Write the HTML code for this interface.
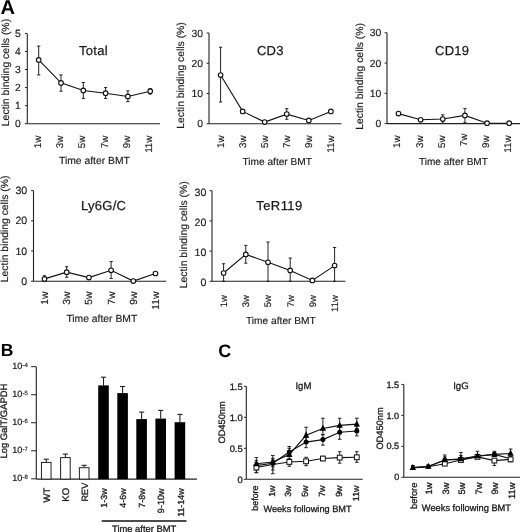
<!DOCTYPE html>
<html><head><meta charset="utf-8"><style>
html,body{margin:0;padding:0;background:#fff;}
body{width:520px;height:532px;overflow:hidden;}
svg{display:block;font-family:"Liberation Sans", sans-serif;filter:grayscale(1) blur(0.3px);text-rendering:geometricPrecision;}
text{paint-order:stroke;}
</style></head><body>
<svg width="520" height="532" viewBox="0 0 520 532">
<rect width="520" height="532" fill="#fff"/>
<text x="0.4" y="13.8" font-size="20" text-anchor="start" fill="#000" font-weight="bold">A</text>
<line x1="27.3" y1="33.4" x2="27.3" y2="123.7" stroke="#222" stroke-width="1.1"/>
<line x1="27.3" y1="123.7" x2="160" y2="123.7" stroke="#222" stroke-width="1.1"/>
<line x1="24.9" y1="123.7" x2="27.3" y2="123.7" stroke="#222" stroke-width="1"/>
<text x="20.8" y="127.28" font-size="10.4" text-anchor="end" fill="#1a1a1a" stroke="#1a1a1a" stroke-width="0.15">0</text>
<line x1="24.9" y1="105.64" x2="27.3" y2="105.64" stroke="#222" stroke-width="1"/>
<text x="20.8" y="109.22" font-size="10.4" text-anchor="end" fill="#1a1a1a" stroke="#1a1a1a" stroke-width="0.15">1</text>
<line x1="24.9" y1="87.58" x2="27.3" y2="87.58" stroke="#222" stroke-width="1"/>
<text x="20.8" y="91.16" font-size="10.4" text-anchor="end" fill="#1a1a1a" stroke="#1a1a1a" stroke-width="0.15">2</text>
<line x1="24.9" y1="69.52" x2="27.3" y2="69.52" stroke="#222" stroke-width="1"/>
<text x="20.8" y="73.1" font-size="10.4" text-anchor="end" fill="#1a1a1a" stroke="#1a1a1a" stroke-width="0.15">3</text>
<line x1="24.9" y1="51.46" x2="27.3" y2="51.46" stroke="#222" stroke-width="1"/>
<text x="20.8" y="55.04" font-size="10.4" text-anchor="end" fill="#1a1a1a" stroke="#1a1a1a" stroke-width="0.15">4</text>
<line x1="24.9" y1="33.4" x2="27.3" y2="33.4" stroke="#222" stroke-width="1"/>
<text x="20.8" y="36.98" font-size="10.4" text-anchor="end" fill="#1a1a1a" stroke="#1a1a1a" stroke-width="0.15">5</text>
<text transform="translate(9.3,126.2) rotate(-90)" font-size="10.45" text-anchor="start" fill="#1a1a1a" stroke="#1a1a1a" stroke-width="0.15">Lectin binding cells (%)</text>
<text x="79" y="54.6" font-size="13" text-anchor="start" fill="#1a1a1a" stroke="#1a1a1a" stroke-width="0.25" letter-spacing="0.3">Total</text>
<text transform="translate(40.87,135.6) rotate(-90)" font-size="9.8" text-anchor="end" fill="#1a1a1a" stroke="#1a1a1a" stroke-width="0.15">1w</text>
<text transform="translate(63.17,135.6) rotate(-90)" font-size="9.8" text-anchor="end" fill="#1a1a1a" stroke="#1a1a1a" stroke-width="0.15">3w</text>
<text transform="translate(85.47,135.6) rotate(-90)" font-size="9.8" text-anchor="end" fill="#1a1a1a" stroke="#1a1a1a" stroke-width="0.15">5w</text>
<text transform="translate(107.77,135.6) rotate(-90)" font-size="9.8" text-anchor="end" fill="#1a1a1a" stroke="#1a1a1a" stroke-width="0.15">7w</text>
<text transform="translate(130.07,135.6) rotate(-90)" font-size="9.8" text-anchor="end" fill="#1a1a1a" stroke="#1a1a1a" stroke-width="0.15">9w</text>
<text transform="translate(152.37,135.6) rotate(-90)" font-size="9.8" text-anchor="end" fill="#1a1a1a" stroke="#1a1a1a" stroke-width="0.15">11w</text>
<text x="59" y="164.4" font-size="10.35" text-anchor="start" fill="#1a1a1a" stroke="#1a1a1a" stroke-width="0.15">Time after BMT</text>
<line x1="38.7" y1="74.94" x2="38.7" y2="46.04" stroke="#222" stroke-width="1"/>
<line x1="37.1" y1="46.04" x2="40.3" y2="46.04" stroke="#222" stroke-width="1"/>
<line x1="37.1" y1="74.94" x2="40.3" y2="74.94" stroke="#222" stroke-width="1"/>
<line x1="61" y1="91.19" x2="61" y2="74.94" stroke="#222" stroke-width="1"/>
<line x1="59.4" y1="74.94" x2="62.6" y2="74.94" stroke="#222" stroke-width="1"/>
<line x1="59.4" y1="91.19" x2="62.6" y2="91.19" stroke="#222" stroke-width="1"/>
<line x1="83.3" y1="98.42" x2="83.3" y2="82.52" stroke="#222" stroke-width="1"/>
<line x1="81.7" y1="82.52" x2="84.9" y2="82.52" stroke="#222" stroke-width="1"/>
<line x1="81.7" y1="98.42" x2="84.9" y2="98.42" stroke="#222" stroke-width="1"/>
<line x1="105.6" y1="98.42" x2="105.6" y2="87.58" stroke="#222" stroke-width="1"/>
<line x1="104" y1="87.58" x2="107.2" y2="87.58" stroke="#222" stroke-width="1"/>
<line x1="104" y1="98.42" x2="107.2" y2="98.42" stroke="#222" stroke-width="1"/>
<line x1="127.9" y1="101.67" x2="127.9" y2="90.83" stroke="#222" stroke-width="1"/>
<line x1="126.3" y1="90.83" x2="129.5" y2="90.83" stroke="#222" stroke-width="1"/>
<line x1="126.3" y1="101.67" x2="129.5" y2="101.67" stroke="#222" stroke-width="1"/>
<line x1="150.2" y1="94.08" x2="150.2" y2="88.66" stroke="#222" stroke-width="1"/>
<line x1="148.6" y1="88.66" x2="151.8" y2="88.66" stroke="#222" stroke-width="1"/>
<line x1="148.6" y1="94.08" x2="151.8" y2="94.08" stroke="#222" stroke-width="1"/>
<polyline points="38.7,59.95 61,82.88 83.3,90.47 105.6,93.18 127.9,96.43 150.2,91.19" fill="none" stroke="#111" stroke-width="1.1"/>
<circle cx="38.7" cy="59.95" r="2.3" fill="#fff" stroke="#111" stroke-width="1.1"/>
<circle cx="61" cy="82.88" r="2.3" fill="#fff" stroke="#111" stroke-width="1.1"/>
<circle cx="83.3" cy="90.47" r="2.3" fill="#fff" stroke="#111" stroke-width="1.1"/>
<circle cx="105.6" cy="93.18" r="2.3" fill="#fff" stroke="#111" stroke-width="1.1"/>
<circle cx="127.9" cy="96.43" r="2.3" fill="#fff" stroke="#111" stroke-width="1.1"/>
<circle cx="150.2" cy="91.19" r="2.3" fill="#fff" stroke="#111" stroke-width="1.1"/>
<line x1="209" y1="32.99" x2="209" y2="123.8" stroke="#222" stroke-width="1.1"/>
<line x1="209" y1="123.8" x2="341.5" y2="123.8" stroke="#222" stroke-width="1.1"/>
<line x1="206.6" y1="123.8" x2="209" y2="123.8" stroke="#222" stroke-width="1"/>
<text x="203" y="127.38" font-size="10.4" text-anchor="end" fill="#1a1a1a" stroke="#1a1a1a" stroke-width="0.15">0</text>
<line x1="206.6" y1="93.53" x2="209" y2="93.53" stroke="#222" stroke-width="1"/>
<text x="203" y="97.11" font-size="10.4" text-anchor="end" fill="#1a1a1a" stroke="#1a1a1a" stroke-width="0.15">10</text>
<line x1="206.6" y1="63.26" x2="209" y2="63.26" stroke="#222" stroke-width="1"/>
<text x="203" y="66.84" font-size="10.4" text-anchor="end" fill="#1a1a1a" stroke="#1a1a1a" stroke-width="0.15">20</text>
<line x1="206.6" y1="32.99" x2="209" y2="32.99" stroke="#222" stroke-width="1"/>
<text x="203" y="36.57" font-size="10.4" text-anchor="end" fill="#1a1a1a" stroke="#1a1a1a" stroke-width="0.15">30</text>
<text transform="translate(183.9,128.75) rotate(-90)" font-size="10.36" text-anchor="start" fill="#1a1a1a" stroke="#1a1a1a" stroke-width="0.15">Lectin binding cells (%)</text>
<text x="257" y="54.7" font-size="13" text-anchor="start" fill="#1a1a1a" stroke="#1a1a1a" stroke-width="0.25" letter-spacing="0.2">CD3</text>
<text transform="translate(223.97,135.4) rotate(-90)" font-size="9.8" text-anchor="end" fill="#1a1a1a" stroke="#1a1a1a" stroke-width="0.15">1w</text>
<text transform="translate(246.02,135.4) rotate(-90)" font-size="9.8" text-anchor="end" fill="#1a1a1a" stroke="#1a1a1a" stroke-width="0.15">3w</text>
<text transform="translate(268.07,135.4) rotate(-90)" font-size="9.8" text-anchor="end" fill="#1a1a1a" stroke="#1a1a1a" stroke-width="0.15">5w</text>
<text transform="translate(290.12,135.4) rotate(-90)" font-size="9.8" text-anchor="end" fill="#1a1a1a" stroke="#1a1a1a" stroke-width="0.15">7w</text>
<text transform="translate(312.17,135.4) rotate(-90)" font-size="9.8" text-anchor="end" fill="#1a1a1a" stroke="#1a1a1a" stroke-width="0.15">9w</text>
<text transform="translate(334.22,135.4) rotate(-90)" font-size="9.8" text-anchor="end" fill="#1a1a1a" stroke="#1a1a1a" stroke-width="0.15">11w</text>
<text x="242.5" y="164.6" font-size="10.15" text-anchor="start" fill="#1a1a1a" stroke="#1a1a1a" stroke-width="0.15">Time after BMT</text>
<line x1="220.6" y1="102.01" x2="220.6" y2="47.22" stroke="#222" stroke-width="1"/>
<line x1="219" y1="47.22" x2="222.2" y2="47.22" stroke="#222" stroke-width="1"/>
<line x1="219" y1="102.01" x2="222.2" y2="102.01" stroke="#222" stroke-width="1"/>
<line x1="286.75" y1="119.26" x2="286.75" y2="108.66" stroke="#222" stroke-width="1"/>
<line x1="285.15" y1="108.66" x2="288.35" y2="108.66" stroke="#222" stroke-width="1"/>
<line x1="285.15" y1="119.26" x2="288.35" y2="119.26" stroke="#222" stroke-width="1"/>
<polyline points="220.6,75.07 242.65,111.39 264.7,122.1 286.75,114.11 308.8,120.47 330.85,111.39" fill="none" stroke="#111" stroke-width="1.1"/>
<circle cx="220.6" cy="75.07" r="2.3" fill="#fff" stroke="#111" stroke-width="1.1"/>
<circle cx="242.65" cy="111.39" r="2.3" fill="#fff" stroke="#111" stroke-width="1.1"/>
<circle cx="264.7" cy="122.1" r="2.3" fill="#fff" stroke="#111" stroke-width="1.1"/>
<circle cx="286.75" cy="114.11" r="2.3" fill="#fff" stroke="#111" stroke-width="1.1"/>
<circle cx="308.8" cy="120.47" r="2.3" fill="#fff" stroke="#111" stroke-width="1.1"/>
<circle cx="330.85" cy="111.39" r="2.3" fill="#fff" stroke="#111" stroke-width="1.1"/>
<line x1="387" y1="32.79" x2="387" y2="123.6" stroke="#222" stroke-width="1.1"/>
<line x1="387" y1="123.6" x2="521" y2="123.6" stroke="#222" stroke-width="1.1"/>
<line x1="384.6" y1="123.6" x2="387" y2="123.6" stroke="#222" stroke-width="1"/>
<text x="381.2" y="127.18" font-size="10.4" text-anchor="end" fill="#1a1a1a" stroke="#1a1a1a" stroke-width="0.15">0</text>
<line x1="384.6" y1="93.33" x2="387" y2="93.33" stroke="#222" stroke-width="1"/>
<text x="381.2" y="96.91" font-size="10.4" text-anchor="end" fill="#1a1a1a" stroke="#1a1a1a" stroke-width="0.15">10</text>
<line x1="384.6" y1="63.06" x2="387" y2="63.06" stroke="#222" stroke-width="1"/>
<text x="381.2" y="66.64" font-size="10.4" text-anchor="end" fill="#1a1a1a" stroke="#1a1a1a" stroke-width="0.15">20</text>
<line x1="384.6" y1="32.79" x2="387" y2="32.79" stroke="#222" stroke-width="1"/>
<text x="381.2" y="36.37" font-size="10.4" text-anchor="end" fill="#1a1a1a" stroke="#1a1a1a" stroke-width="0.15">30</text>
<text transform="translate(362.5,129.85) rotate(-90)" font-size="10.4" text-anchor="start" fill="#1a1a1a" stroke="#1a1a1a" stroke-width="0.15">Lectin binding cells (%)</text>
<text x="435" y="55.2" font-size="13" text-anchor="start" fill="#1a1a1a" stroke="#1a1a1a" stroke-width="0.25" letter-spacing="0.25">CD19</text>
<text transform="translate(400.47,135.4) rotate(-90)" font-size="9.8" text-anchor="end" fill="#1a1a1a" stroke="#1a1a1a" stroke-width="0.15">1w</text>
<text transform="translate(422.61,135.4) rotate(-90)" font-size="9.8" text-anchor="end" fill="#1a1a1a" stroke="#1a1a1a" stroke-width="0.15">3w</text>
<text transform="translate(444.75,135.4) rotate(-90)" font-size="9.8" text-anchor="end" fill="#1a1a1a" stroke="#1a1a1a" stroke-width="0.15">5w</text>
<text transform="translate(466.89,133.6) rotate(-90)" font-size="9.8" text-anchor="end" fill="#1a1a1a" stroke="#1a1a1a" stroke-width="0.15">7w</text>
<text transform="translate(489.03,135.4) rotate(-90)" font-size="9.8" text-anchor="end" fill="#1a1a1a" stroke="#1a1a1a" stroke-width="0.15">9w</text>
<text transform="translate(511.17,135.4) rotate(-90)" font-size="9.8" text-anchor="end" fill="#1a1a1a" stroke="#1a1a1a" stroke-width="0.15">11w</text>
<text x="419" y="164.6" font-size="10.05" text-anchor="start" fill="#1a1a1a" stroke="#1a1a1a" stroke-width="0.15">Time after BMT</text>
<line x1="442.78" y1="123.3" x2="442.78" y2="114.82" stroke="#222" stroke-width="1"/>
<line x1="441.18" y1="114.82" x2="444.38" y2="114.82" stroke="#222" stroke-width="1"/>
<line x1="441.18" y1="123.3" x2="444.38" y2="123.3" stroke="#222" stroke-width="1"/>
<line x1="464.92" y1="122.69" x2="464.92" y2="108.46" stroke="#222" stroke-width="1"/>
<line x1="463.32" y1="108.46" x2="466.52" y2="108.46" stroke="#222" stroke-width="1"/>
<line x1="463.32" y1="122.69" x2="466.52" y2="122.69" stroke="#222" stroke-width="1"/>
<polyline points="398.5,113.61 420.64,119.82 442.78,119.06 464.92,115.43 487.06,123.21 509.2,123.21" fill="none" stroke="#111" stroke-width="1.1"/>
<circle cx="398.5" cy="113.61" r="2.3" fill="#fff" stroke="#111" stroke-width="1.1"/>
<circle cx="420.64" cy="119.82" r="2.3" fill="#fff" stroke="#111" stroke-width="1.1"/>
<circle cx="442.78" cy="119.06" r="2.3" fill="#fff" stroke="#111" stroke-width="1.1"/>
<circle cx="464.92" cy="115.43" r="2.3" fill="#fff" stroke="#111" stroke-width="1.1"/>
<circle cx="487.06" cy="123.21" r="2.3" fill="#fff" stroke="#111" stroke-width="1.1"/>
<circle cx="509.2" cy="123.21" r="2.3" fill="#fff" stroke="#111" stroke-width="1.1"/>
<line x1="33.5" y1="190.6" x2="33.5" y2="281.2" stroke="#222" stroke-width="1.1"/>
<line x1="33.5" y1="281.2" x2="166.2" y2="281.2" stroke="#222" stroke-width="1.1"/>
<line x1="31.1" y1="281.2" x2="33.5" y2="281.2" stroke="#222" stroke-width="1"/>
<text x="27.2" y="284.85" font-size="10.6" text-anchor="end" fill="#1a1a1a" stroke="#1a1a1a" stroke-width="0.15">0</text>
<line x1="31.1" y1="251" x2="33.5" y2="251" stroke="#222" stroke-width="1"/>
<text x="27.2" y="254.65" font-size="10.6" text-anchor="end" fill="#1a1a1a" stroke="#1a1a1a" stroke-width="0.15">10</text>
<line x1="31.1" y1="220.8" x2="33.5" y2="220.8" stroke="#222" stroke-width="1"/>
<text x="27.2" y="224.45" font-size="10.6" text-anchor="end" fill="#1a1a1a" stroke="#1a1a1a" stroke-width="0.15">20</text>
<line x1="31.1" y1="190.6" x2="33.5" y2="190.6" stroke="#222" stroke-width="1"/>
<text x="27.2" y="194.25" font-size="10.6" text-anchor="end" fill="#1a1a1a" stroke="#1a1a1a" stroke-width="0.15">30</text>
<text transform="translate(7.9,282.15) rotate(-90)" font-size="10.36" text-anchor="start" fill="#1a1a1a" stroke="#1a1a1a" stroke-width="0.15">Lectin binding cells (%)</text>
<text x="80.9" y="209.8" font-size="13" text-anchor="start" fill="#1a1a1a" stroke="#1a1a1a" stroke-width="0.25" letter-spacing="0.3">Ly6G/C</text>
<text transform="translate(48.04,291.5) rotate(-90)" font-size="10.3" text-anchor="end" fill="#1a1a1a" stroke="#1a1a1a" stroke-width="0.15">1w</text>
<text transform="translate(70.24,291.5) rotate(-90)" font-size="10.3" text-anchor="end" fill="#1a1a1a" stroke="#1a1a1a" stroke-width="0.15">3w</text>
<text transform="translate(92.44,291.5) rotate(-90)" font-size="10.3" text-anchor="end" fill="#1a1a1a" stroke="#1a1a1a" stroke-width="0.15">5w</text>
<text transform="translate(114.64,291.5) rotate(-90)" font-size="10.3" text-anchor="end" fill="#1a1a1a" stroke="#1a1a1a" stroke-width="0.15">7w</text>
<text transform="translate(136.84,291.5) rotate(-90)" font-size="10.3" text-anchor="end" fill="#1a1a1a" stroke="#1a1a1a" stroke-width="0.15">9w</text>
<text transform="translate(159.04,291.5) rotate(-90)" font-size="10.3" text-anchor="end" fill="#1a1a1a" stroke="#1a1a1a" stroke-width="0.15">11w</text>
<text x="66.4" y="321.7" font-size="10.35" text-anchor="start" fill="#1a1a1a" stroke="#1a1a1a" stroke-width="0.15">Time after BMT</text>
<line x1="44.5" y1="281.2" x2="44.5" y2="275.76" stroke="#222" stroke-width="1"/>
<line x1="42.9" y1="275.76" x2="46.1" y2="275.76" stroke="#222" stroke-width="1"/>
<line x1="42.9" y1="281.2" x2="46.1" y2="281.2" stroke="#222" stroke-width="1"/>
<line x1="66.7" y1="277.27" x2="66.7" y2="266.7" stroke="#222" stroke-width="1"/>
<line x1="65.1" y1="266.7" x2="68.3" y2="266.7" stroke="#222" stroke-width="1"/>
<line x1="65.1" y1="277.27" x2="68.3" y2="277.27" stroke="#222" stroke-width="1"/>
<line x1="111.1" y1="278.48" x2="111.1" y2="261.57" stroke="#222" stroke-width="1"/>
<line x1="109.5" y1="261.57" x2="112.7" y2="261.57" stroke="#222" stroke-width="1"/>
<line x1="109.5" y1="278.48" x2="112.7" y2="278.48" stroke="#222" stroke-width="1"/>
<polyline points="44.5,278.9 66.7,272.14 88.9,277.58 111.1,270.33 133.3,281.11 155.5,273.5" fill="none" stroke="#111" stroke-width="1.1"/>
<circle cx="44.5" cy="278.9" r="2.3" fill="#fff" stroke="#111" stroke-width="1.1"/>
<circle cx="66.7" cy="272.14" r="2.3" fill="#fff" stroke="#111" stroke-width="1.1"/>
<circle cx="88.9" cy="277.58" r="2.3" fill="#fff" stroke="#111" stroke-width="1.1"/>
<circle cx="111.1" cy="270.33" r="2.3" fill="#fff" stroke="#111" stroke-width="1.1"/>
<circle cx="133.3" cy="281.11" r="2.3" fill="#fff" stroke="#111" stroke-width="1.1"/>
<circle cx="155.5" cy="273.5" r="2.3" fill="#fff" stroke="#111" stroke-width="1.1"/>
<line x1="212" y1="190.7" x2="212" y2="281.3" stroke="#222" stroke-width="1.1"/>
<line x1="212" y1="281.3" x2="345.4" y2="281.3" stroke="#222" stroke-width="1.1"/>
<line x1="209.6" y1="281.3" x2="212" y2="281.3" stroke="#222" stroke-width="1"/>
<text x="206.3" y="286.35" font-size="10.6" text-anchor="end" fill="#1a1a1a" stroke="#1a1a1a" stroke-width="0.15">0</text>
<line x1="209.6" y1="251.1" x2="212" y2="251.1" stroke="#222" stroke-width="1"/>
<text x="206.3" y="256.15" font-size="10.6" text-anchor="end" fill="#1a1a1a" stroke="#1a1a1a" stroke-width="0.15">10</text>
<line x1="209.6" y1="220.9" x2="212" y2="220.9" stroke="#222" stroke-width="1"/>
<text x="206.3" y="225.95" font-size="10.6" text-anchor="end" fill="#1a1a1a" stroke="#1a1a1a" stroke-width="0.15">20</text>
<line x1="209.6" y1="190.7" x2="212" y2="190.7" stroke="#222" stroke-width="1"/>
<text x="206.3" y="195.75" font-size="10.6" text-anchor="end" fill="#1a1a1a" stroke="#1a1a1a" stroke-width="0.15">30</text>
<text transform="translate(186.7,288.35) rotate(-90)" font-size="10.43" text-anchor="start" fill="#1a1a1a" stroke="#1a1a1a" stroke-width="0.15">Lectin binding cells (%)</text>
<text x="256.2" y="209.8" font-size="13" text-anchor="start" fill="#1a1a1a" stroke="#1a1a1a" stroke-width="0.25" letter-spacing="0.45">TeR119</text>
<text transform="translate(226.9,295) rotate(-90)" font-size="9.6" text-anchor="end" fill="#1a1a1a" stroke="#1a1a1a" stroke-width="0.15">1w</text>
<text transform="translate(249.1,295) rotate(-90)" font-size="9.6" text-anchor="end" fill="#1a1a1a" stroke="#1a1a1a" stroke-width="0.15">3w</text>
<text transform="translate(271.3,295) rotate(-90)" font-size="9.6" text-anchor="end" fill="#1a1a1a" stroke="#1a1a1a" stroke-width="0.15">5w</text>
<text transform="translate(293.5,295) rotate(-90)" font-size="9.6" text-anchor="end" fill="#1a1a1a" stroke="#1a1a1a" stroke-width="0.15">7w</text>
<text transform="translate(315.7,295) rotate(-90)" font-size="9.6" text-anchor="end" fill="#1a1a1a" stroke="#1a1a1a" stroke-width="0.15">9w</text>
<text transform="translate(337.9,295) rotate(-90)" font-size="9.6" text-anchor="end" fill="#1a1a1a" stroke="#1a1a1a" stroke-width="0.15">11w</text>
<text x="246" y="324" font-size="10.2" text-anchor="start" fill="#1a1a1a" stroke="#1a1a1a" stroke-width="0.15">Time after BMT</text>
<line x1="223.6" y1="281.3" x2="223.6" y2="263.78" stroke="#222" stroke-width="1"/>
<line x1="222" y1="263.78" x2="225.2" y2="263.78" stroke="#222" stroke-width="1"/>
<line x1="222" y1="281.3" x2="225.2" y2="281.3" stroke="#222" stroke-width="1"/>
<line x1="245.8" y1="263.18" x2="245.8" y2="245.36" stroke="#222" stroke-width="1"/>
<line x1="244.2" y1="245.36" x2="247.4" y2="245.36" stroke="#222" stroke-width="1"/>
<line x1="244.2" y1="263.18" x2="247.4" y2="263.18" stroke="#222" stroke-width="1"/>
<line x1="268" y1="281.3" x2="268" y2="242.04" stroke="#222" stroke-width="1"/>
<line x1="266.4" y1="242.04" x2="269.6" y2="242.04" stroke="#222" stroke-width="1"/>
<line x1="266.4" y1="281.3" x2="269.6" y2="281.3" stroke="#222" stroke-width="1"/>
<line x1="290.2" y1="281.3" x2="290.2" y2="258.05" stroke="#222" stroke-width="1"/>
<line x1="288.6" y1="258.05" x2="291.8" y2="258.05" stroke="#222" stroke-width="1"/>
<line x1="288.6" y1="281.3" x2="291.8" y2="281.3" stroke="#222" stroke-width="1"/>
<line x1="334.6" y1="281.3" x2="334.6" y2="247.48" stroke="#222" stroke-width="1"/>
<line x1="333" y1="247.48" x2="336.2" y2="247.48" stroke="#222" stroke-width="1"/>
<line x1="333" y1="281.3" x2="336.2" y2="281.3" stroke="#222" stroke-width="1"/>
<polyline points="223.6,273 245.8,254.42 268,262.27 290.2,270.43 312.4,280.39 334.6,265.6" fill="none" stroke="#111" stroke-width="1.1"/>
<circle cx="223.6" cy="273" r="2.3" fill="#fff" stroke="#111" stroke-width="1.1"/>
<circle cx="245.8" cy="254.42" r="2.3" fill="#fff" stroke="#111" stroke-width="1.1"/>
<circle cx="268" cy="262.27" r="2.3" fill="#fff" stroke="#111" stroke-width="1.1"/>
<circle cx="290.2" cy="270.43" r="2.3" fill="#fff" stroke="#111" stroke-width="1.1"/>
<circle cx="312.4" cy="280.39" r="2.3" fill="#fff" stroke="#111" stroke-width="1.1"/>
<circle cx="334.6" cy="265.6" r="2.3" fill="#fff" stroke="#111" stroke-width="1.1"/>
<text x="0.8" y="356.3" font-size="17.5" text-anchor="start" fill="#000" font-weight="bold">B</text>
<line x1="36.3" y1="366.7" x2="36.3" y2="479.1" stroke="#222" stroke-width="1.1"/>
<line x1="36.3" y1="479.1" x2="197" y2="479.1" stroke="#222" stroke-width="1.1"/>
<line x1="31.1" y1="366.7" x2="36.3" y2="366.7" stroke="#222" stroke-width="1"/>
<text x="22.3" y="369.2" font-size="9.1" text-anchor="end" fill="#1a1a1a" stroke="#1a1a1a" stroke-width="0.2">10</text>
<text x="22.5" y="366.5" font-size="6" fill="#1a1a1a" stroke="#1a1a1a" stroke-width="0.15">-4</text>
<line x1="31.1" y1="394.73" x2="36.3" y2="394.73" stroke="#222" stroke-width="1"/>
<text x="22.3" y="397.23" font-size="9.1" text-anchor="end" fill="#1a1a1a" stroke="#1a1a1a" stroke-width="0.2">10</text>
<text x="22.5" y="394.53" font-size="6" fill="#1a1a1a" stroke="#1a1a1a" stroke-width="0.15">-5</text>
<line x1="31.1" y1="422.76" x2="36.3" y2="422.76" stroke="#222" stroke-width="1"/>
<text x="22.3" y="425.26" font-size="9.1" text-anchor="end" fill="#1a1a1a" stroke="#1a1a1a" stroke-width="0.2">10</text>
<text x="22.5" y="422.56" font-size="6" fill="#1a1a1a" stroke="#1a1a1a" stroke-width="0.15">-6</text>
<line x1="31.1" y1="450.79" x2="36.3" y2="450.79" stroke="#222" stroke-width="1"/>
<text x="22.3" y="453.29" font-size="9.1" text-anchor="end" fill="#1a1a1a" stroke="#1a1a1a" stroke-width="0.2">10</text>
<text x="22.5" y="450.59" font-size="6" fill="#1a1a1a" stroke="#1a1a1a" stroke-width="0.15">-7</text>
<line x1="31.1" y1="478.82" x2="36.3" y2="478.82" stroke="#222" stroke-width="1"/>
<text x="22.3" y="481.32" font-size="9.1" text-anchor="end" fill="#1a1a1a" stroke="#1a1a1a" stroke-width="0.2">10</text>
<text x="22.5" y="478.62" font-size="6" fill="#1a1a1a" stroke="#1a1a1a" stroke-width="0.15">-8</text>
<text transform="translate(7.2,458.6) rotate(-90)" font-size="9.45" text-anchor="start" fill="#1a1a1a" stroke="#1a1a1a" stroke-width="0.3">Log GalT/GAPDH</text>
<line x1="46.25" y1="461.9" x2="46.25" y2="459.2" stroke="#222" stroke-width="1.1"/>
<line x1="43.65" y1="459.2" x2="48.85" y2="459.2" stroke="#222" stroke-width="1.1"/>
<rect x="41.45" y="462.4" width="9.6" height="16.7" fill="#fff" stroke="#222" stroke-width="1"/>
<line x1="65.4" y1="457.1" x2="65.4" y2="454.1" stroke="#222" stroke-width="1.1"/>
<line x1="62.8" y1="454.1" x2="68" y2="454.1" stroke="#222" stroke-width="1.1"/>
<rect x="60.6" y="457.6" width="9.6" height="21.5" fill="#fff" stroke="#222" stroke-width="1"/>
<line x1="84.2" y1="467.2" x2="84.2" y2="465.3" stroke="#222" stroke-width="1.1"/>
<line x1="81.6" y1="465.3" x2="86.8" y2="465.3" stroke="#222" stroke-width="1.1"/>
<rect x="79.4" y="467.7" width="9.6" height="11.4" fill="#fff" stroke="#222" stroke-width="1"/>
<line x1="103.5" y1="385.4" x2="103.5" y2="377.2" stroke="#222" stroke-width="1.1"/>
<line x1="100.9" y1="377.2" x2="106.1" y2="377.2" stroke="#222" stroke-width="1.1"/>
<rect x="98.2" y="385.4" width="10.6" height="93.7" fill="#000"/>
<line x1="122.6" y1="393.1" x2="122.6" y2="386.5" stroke="#222" stroke-width="1.1"/>
<line x1="120" y1="386.5" x2="125.2" y2="386.5" stroke="#222" stroke-width="1.1"/>
<rect x="117.3" y="393.1" width="10.6" height="86" fill="#000"/>
<line x1="141.6" y1="419.1" x2="141.6" y2="412.1" stroke="#222" stroke-width="1.1"/>
<line x1="139" y1="412.1" x2="144.2" y2="412.1" stroke="#222" stroke-width="1.1"/>
<rect x="136.3" y="419.1" width="10.6" height="60" fill="#000"/>
<line x1="160.7" y1="418.6" x2="160.7" y2="410.4" stroke="#222" stroke-width="1.1"/>
<line x1="158.1" y1="410.4" x2="163.3" y2="410.4" stroke="#222" stroke-width="1.1"/>
<rect x="155.4" y="418.6" width="10.6" height="60.5" fill="#000"/>
<line x1="179.9" y1="422.2" x2="179.9" y2="414.4" stroke="#222" stroke-width="1.1"/>
<line x1="177.3" y1="414.4" x2="182.5" y2="414.4" stroke="#222" stroke-width="1.1"/>
<rect x="174.6" y="422.2" width="10.6" height="56.9" fill="#000"/>
<text transform="translate(49.53,487.8) rotate(-90)" font-size="9.4" text-anchor="end" fill="#1a1a1a" stroke="#1a1a1a" stroke-width="0.3">WT</text>
<text transform="translate(68.8,487.8) rotate(-90)" font-size="9.6" text-anchor="end" fill="#1a1a1a" stroke="#1a1a1a" stroke-width="0.3">KO</text>
<text transform="translate(87.53,482.8) rotate(-90)" font-size="9.1" text-anchor="end" fill="#1a1a1a" stroke="#1a1a1a" stroke-width="0.3">REV</text>
<text transform="translate(106.86,488.4) rotate(-90)" font-size="8.9" text-anchor="end" fill="#1a1a1a" stroke="#1a1a1a" stroke-width="0.3">1-3w</text>
<text transform="translate(126.26,488.4) rotate(-90)" font-size="8.9" text-anchor="end" fill="#1a1a1a" stroke="#1a1a1a" stroke-width="0.3">4-6w</text>
<text transform="translate(145.16,488.4) rotate(-90)" font-size="8.9" text-anchor="end" fill="#1a1a1a" stroke="#1a1a1a" stroke-width="0.3">7-8w</text>
<text transform="translate(164.43,488.4) rotate(-90)" font-size="9.1" text-anchor="end" fill="#1a1a1a" stroke="#1a1a1a" stroke-width="0.3">9-10w</text>
<text transform="translate(183.66,488.4) rotate(-90)" font-size="8.9" text-anchor="end" fill="#1a1a1a" stroke="#1a1a1a" stroke-width="0.3">11-14w</text>
<line x1="101.7" y1="521" x2="186.5" y2="521" stroke="#111" stroke-width="1.3"/>
<text x="112" y="531.6" font-size="9.4" text-anchor="start" fill="#1a1a1a" stroke="#1a1a1a" stroke-width="0.3">Time after BMT</text>
<text x="218.3" y="356.9" font-size="18" text-anchor="start" fill="#000" font-weight="bold">C</text>
<line x1="246.3" y1="386.3" x2="246.3" y2="479.3" stroke="#222" stroke-width="1.1"/>
<line x1="246.3" y1="479.3" x2="362.7" y2="479.3" stroke="#222" stroke-width="1.1"/>
<line x1="243.9" y1="479.3" x2="246.3" y2="479.3" stroke="#222" stroke-width="1"/>
<text x="242.7" y="482.53" font-size="9.4" text-anchor="end" fill="#1a1a1a" stroke="#1a1a1a" stroke-width="0.3">0</text>
<line x1="243.9" y1="448.3" x2="246.3" y2="448.3" stroke="#222" stroke-width="1"/>
<text x="242.7" y="451.53" font-size="9.4" text-anchor="end" fill="#1a1a1a" stroke="#1a1a1a" stroke-width="0.3">0.5</text>
<line x1="243.9" y1="417.3" x2="246.3" y2="417.3" stroke="#222" stroke-width="1"/>
<text x="242.7" y="420.53" font-size="9.4" text-anchor="end" fill="#1a1a1a" stroke="#1a1a1a" stroke-width="0.3">1.0</text>
<line x1="243.9" y1="386.3" x2="246.3" y2="386.3" stroke="#222" stroke-width="1"/>
<text x="242.7" y="389.53" font-size="9.4" text-anchor="end" fill="#1a1a1a" stroke="#1a1a1a" stroke-width="0.3">1.5</text>
<text transform="translate(225.4,443.6) rotate(-90)" font-size="9.3" text-anchor="start" fill="#1a1a1a" stroke="#1a1a1a" stroke-width="0.3">OD450nm</text>
<text x="295.4" y="389.2" font-size="9.6" text-anchor="start" fill="#1a1a1a" stroke="#1a1a1a" stroke-width="0.3">IgM</text>
<text transform="translate(258.46,485.5) rotate(-90)" font-size="8.9" text-anchor="end" fill="#1a1a1a" stroke="#1a1a1a" stroke-width="0.3">before</text>
<text transform="translate(274.86,485.5) rotate(-90)" font-size="8.9" text-anchor="end" fill="#1a1a1a" stroke="#1a1a1a" stroke-width="0.3">1w</text>
<text transform="translate(291.36,485.5) rotate(-90)" font-size="8.9" text-anchor="end" fill="#1a1a1a" stroke="#1a1a1a" stroke-width="0.3">3w</text>
<text transform="translate(308.16,485.5) rotate(-90)" font-size="8.9" text-anchor="end" fill="#1a1a1a" stroke="#1a1a1a" stroke-width="0.3">5w</text>
<text transform="translate(324.96,485.5) rotate(-90)" font-size="8.9" text-anchor="end" fill="#1a1a1a" stroke="#1a1a1a" stroke-width="0.3">7w</text>
<text transform="translate(341.76,485.5) rotate(-90)" font-size="8.9" text-anchor="end" fill="#1a1a1a" stroke="#1a1a1a" stroke-width="0.3">9w</text>
<text transform="translate(358.86,485.5) rotate(-90)" font-size="8.9" text-anchor="end" fill="#1a1a1a" stroke="#1a1a1a" stroke-width="0.3">11w</text>
<text x="263.4" y="511.7" font-size="9.2" text-anchor="start" fill="#1a1a1a" stroke="#1a1a1a" stroke-width="0.3">Weeks following BMT</text>
<line x1="256.4" y1="472.79" x2="256.4" y2="462.56" stroke="#222" stroke-width="1"/>
<line x1="254.6" y1="462.56" x2="258.2" y2="462.56" stroke="#222" stroke-width="1"/>
<line x1="254.6" y1="472.79" x2="258.2" y2="472.79" stroke="#222" stroke-width="1"/>
<line x1="272.8" y1="470" x2="272.8" y2="460.08" stroke="#222" stroke-width="1"/>
<line x1="271" y1="460.08" x2="274.6" y2="460.08" stroke="#222" stroke-width="1"/>
<line x1="271" y1="470" x2="274.6" y2="470" stroke="#222" stroke-width="1"/>
<line x1="289.3" y1="466.28" x2="289.3" y2="458.84" stroke="#222" stroke-width="1"/>
<line x1="287.5" y1="458.84" x2="291.1" y2="458.84" stroke="#222" stroke-width="1"/>
<line x1="287.5" y1="466.28" x2="291.1" y2="466.28" stroke="#222" stroke-width="1"/>
<line x1="306.1" y1="465.66" x2="306.1" y2="457.29" stroke="#222" stroke-width="1"/>
<line x1="304.3" y1="457.29" x2="307.9" y2="457.29" stroke="#222" stroke-width="1"/>
<line x1="304.3" y1="465.66" x2="307.9" y2="465.66" stroke="#222" stroke-width="1"/>
<line x1="322.9" y1="460.7" x2="322.9" y2="456.36" stroke="#222" stroke-width="1"/>
<line x1="321.1" y1="456.36" x2="324.7" y2="456.36" stroke="#222" stroke-width="1"/>
<line x1="321.1" y1="460.7" x2="324.7" y2="460.7" stroke="#222" stroke-width="1"/>
<line x1="339.7" y1="463.18" x2="339.7" y2="451.71" stroke="#222" stroke-width="1"/>
<line x1="337.9" y1="451.71" x2="341.5" y2="451.71" stroke="#222" stroke-width="1"/>
<line x1="337.9" y1="463.18" x2="341.5" y2="463.18" stroke="#222" stroke-width="1"/>
<line x1="356.8" y1="462.25" x2="356.8" y2="451.71" stroke="#222" stroke-width="1"/>
<line x1="355" y1="451.71" x2="358.6" y2="451.71" stroke="#222" stroke-width="1"/>
<line x1="355" y1="462.25" x2="358.6" y2="462.25" stroke="#222" stroke-width="1"/>
<line x1="256.4" y1="472.48" x2="256.4" y2="460.7" stroke="#222" stroke-width="1"/>
<line x1="254.6" y1="460.7" x2="258.2" y2="460.7" stroke="#222" stroke-width="1"/>
<line x1="254.6" y1="472.48" x2="258.2" y2="472.48" stroke="#222" stroke-width="1"/>
<line x1="272.8" y1="473.72" x2="272.8" y2="458.22" stroke="#222" stroke-width="1"/>
<line x1="271" y1="458.22" x2="274.6" y2="458.22" stroke="#222" stroke-width="1"/>
<line x1="271" y1="473.72" x2="274.6" y2="473.72" stroke="#222" stroke-width="1"/>
<line x1="289.3" y1="456.36" x2="289.3" y2="448.3" stroke="#222" stroke-width="1"/>
<line x1="287.5" y1="448.3" x2="291.1" y2="448.3" stroke="#222" stroke-width="1"/>
<line x1="287.5" y1="456.36" x2="291.1" y2="456.36" stroke="#222" stroke-width="1"/>
<line x1="306.1" y1="447.68" x2="306.1" y2="437.14" stroke="#222" stroke-width="1"/>
<line x1="304.3" y1="437.14" x2="307.9" y2="437.14" stroke="#222" stroke-width="1"/>
<line x1="304.3" y1="447.68" x2="307.9" y2="447.68" stroke="#222" stroke-width="1"/>
<line x1="322.9" y1="445.2" x2="322.9" y2="434.66" stroke="#222" stroke-width="1"/>
<line x1="321.1" y1="434.66" x2="324.7" y2="434.66" stroke="#222" stroke-width="1"/>
<line x1="321.1" y1="445.2" x2="324.7" y2="445.2" stroke="#222" stroke-width="1"/>
<line x1="339.7" y1="439.31" x2="339.7" y2="425.98" stroke="#222" stroke-width="1"/>
<line x1="337.9" y1="425.98" x2="341.5" y2="425.98" stroke="#222" stroke-width="1"/>
<line x1="337.9" y1="439.31" x2="341.5" y2="439.31" stroke="#222" stroke-width="1"/>
<line x1="356.8" y1="435.9" x2="356.8" y2="425.98" stroke="#222" stroke-width="1"/>
<line x1="355" y1="425.98" x2="358.6" y2="425.98" stroke="#222" stroke-width="1"/>
<line x1="355" y1="435.9" x2="358.6" y2="435.9" stroke="#222" stroke-width="1"/>
<line x1="256.4" y1="470" x2="256.4" y2="457.6" stroke="#222" stroke-width="1"/>
<line x1="254.6" y1="457.6" x2="258.2" y2="457.6" stroke="#222" stroke-width="1"/>
<line x1="254.6" y1="470" x2="258.2" y2="470" stroke="#222" stroke-width="1"/>
<line x1="272.8" y1="466.9" x2="272.8" y2="455.43" stroke="#222" stroke-width="1"/>
<line x1="271" y1="455.43" x2="274.6" y2="455.43" stroke="#222" stroke-width="1"/>
<line x1="271" y1="466.9" x2="274.6" y2="466.9" stroke="#222" stroke-width="1"/>
<line x1="289.3" y1="458.84" x2="289.3" y2="446.44" stroke="#222" stroke-width="1"/>
<line x1="287.5" y1="446.44" x2="291.1" y2="446.44" stroke="#222" stroke-width="1"/>
<line x1="287.5" y1="458.84" x2="291.1" y2="458.84" stroke="#222" stroke-width="1"/>
<line x1="306.1" y1="442.1" x2="306.1" y2="427.22" stroke="#222" stroke-width="1"/>
<line x1="304.3" y1="427.22" x2="307.9" y2="427.22" stroke="#222" stroke-width="1"/>
<line x1="304.3" y1="442.1" x2="307.9" y2="442.1" stroke="#222" stroke-width="1"/>
<line x1="322.9" y1="434.66" x2="322.9" y2="418.23" stroke="#222" stroke-width="1"/>
<line x1="321.1" y1="418.23" x2="324.7" y2="418.23" stroke="#222" stroke-width="1"/>
<line x1="321.1" y1="434.66" x2="324.7" y2="434.66" stroke="#222" stroke-width="1"/>
<line x1="339.7" y1="430.94" x2="339.7" y2="418.23" stroke="#222" stroke-width="1"/>
<line x1="337.9" y1="418.23" x2="341.5" y2="418.23" stroke="#222" stroke-width="1"/>
<line x1="337.9" y1="430.94" x2="341.5" y2="430.94" stroke="#222" stroke-width="1"/>
<line x1="356.8" y1="428.46" x2="356.8" y2="418.23" stroke="#222" stroke-width="1"/>
<line x1="355" y1="418.23" x2="358.6" y2="418.23" stroke="#222" stroke-width="1"/>
<line x1="355" y1="428.46" x2="358.6" y2="428.46" stroke="#222" stroke-width="1"/>
<polyline points="256.4,467.52 272.8,464.42 289.3,461.94 306.1,461.32 322.9,458.53 339.7,457.6 356.8,457.29" fill="none" stroke="#111" stroke-width="1.1"/>
<polyline points="256.4,465.66 272.8,463.18 289.3,452.02 306.1,442.1 322.9,439.62 339.7,432.18 356.8,430.94" fill="none" stroke="#111" stroke-width="1.1"/>
<polyline points="256.4,463.8 272.8,461.94 289.3,454.5 306.1,435.28 322.9,428.46 339.7,425.36 356.8,424.12" fill="none" stroke="#111" stroke-width="1.1"/>
<circle cx="256.4" cy="465.66" r="2.5" fill="#000"/>
<circle cx="272.8" cy="463.18" r="2.5" fill="#000"/>
<circle cx="289.3" cy="452.02" r="2.5" fill="#000"/>
<circle cx="306.1" cy="442.1" r="2.5" fill="#000"/>
<circle cx="322.9" cy="439.62" r="2.5" fill="#000"/>
<circle cx="339.7" cy="432.18" r="2.5" fill="#000"/>
<circle cx="356.8" cy="430.94" r="2.5" fill="#000"/>
<rect x="254" y="465.12" width="4.8" height="4.8" fill="#fff" stroke="#111" stroke-width="1"/>
<rect x="286.9" y="459.54" width="4.8" height="4.8" fill="#fff" stroke="#111" stroke-width="1"/>
<rect x="303.7" y="458.92" width="4.8" height="4.8" fill="#fff" stroke="#111" stroke-width="1"/>
<rect x="320.5" y="456.13" width="4.8" height="4.8" fill="#fff" stroke="#111" stroke-width="1"/>
<rect x="337.3" y="455.2" width="4.8" height="4.8" fill="#fff" stroke="#111" stroke-width="1"/>
<rect x="354.4" y="454.89" width="4.8" height="4.8" fill="#fff" stroke="#111" stroke-width="1"/>
<polygon points="256.4,460.1 253.2,466.2 259.6,466.2" fill="#000"/>
<polygon points="272.8,458.24 269.6,464.34 276,464.34" fill="#000"/>
<polygon points="289.3,450.8 286.1,456.9 292.5,456.9" fill="#000"/>
<polygon points="306.1,431.58 302.9,437.68 309.3,437.68" fill="#000"/>
<polygon points="322.9,424.76 319.7,430.86 326.1,430.86" fill="#000"/>
<polygon points="339.7,421.66 336.5,427.76 342.9,427.76" fill="#000"/>
<polygon points="356.8,420.42 353.6,426.52 360,426.52" fill="#000"/>
<line x1="403.8" y1="384.45" x2="403.8" y2="477.3" stroke="#222" stroke-width="1.1"/>
<line x1="403.8" y1="477.3" x2="521" y2="477.3" stroke="#222" stroke-width="1.1"/>
<line x1="401.4" y1="477.3" x2="403.8" y2="477.3" stroke="#222" stroke-width="1"/>
<text x="399.2" y="480.43" font-size="9.1" text-anchor="end" fill="#1a1a1a" stroke="#1a1a1a" stroke-width="0.3">0</text>
<line x1="401.4" y1="446.35" x2="403.8" y2="446.35" stroke="#222" stroke-width="1"/>
<text x="399.2" y="449.48" font-size="9.1" text-anchor="end" fill="#1a1a1a" stroke="#1a1a1a" stroke-width="0.3">0.5</text>
<line x1="401.4" y1="415.4" x2="403.8" y2="415.4" stroke="#222" stroke-width="1"/>
<text x="399.2" y="418.53" font-size="9.1" text-anchor="end" fill="#1a1a1a" stroke="#1a1a1a" stroke-width="0.3">1.0</text>
<line x1="401.4" y1="384.45" x2="403.8" y2="384.45" stroke="#222" stroke-width="1"/>
<text x="399.2" y="387.58" font-size="9.1" text-anchor="end" fill="#1a1a1a" stroke="#1a1a1a" stroke-width="0.3">1.5</text>
<text transform="translate(383,449.6) rotate(-90)" font-size="9.27" text-anchor="start" fill="#1a1a1a" stroke="#1a1a1a" stroke-width="0.3">OD450nm</text>
<text x="453.2" y="389.4" font-size="9.6" text-anchor="start" fill="#1a1a1a" stroke="#1a1a1a" stroke-width="0.3">IgG</text>
<text transform="translate(416.8,482.6) rotate(-90)" font-size="9.3" text-anchor="end" fill="#1a1a1a" stroke="#1a1a1a" stroke-width="0.3">before</text>
<text transform="translate(432.3,482.6) rotate(-90)" font-size="9.3" text-anchor="end" fill="#1a1a1a" stroke="#1a1a1a" stroke-width="0.3">1w</text>
<text transform="translate(448.8,482.6) rotate(-90)" font-size="9.3" text-anchor="end" fill="#1a1a1a" stroke="#1a1a1a" stroke-width="0.3">3w</text>
<text transform="translate(464.9,482.6) rotate(-90)" font-size="9.3" text-anchor="end" fill="#1a1a1a" stroke="#1a1a1a" stroke-width="0.3">5w</text>
<text transform="translate(481.5,482.6) rotate(-90)" font-size="9.3" text-anchor="end" fill="#1a1a1a" stroke="#1a1a1a" stroke-width="0.3">7w</text>
<text transform="translate(498.4,482.6) rotate(-90)" font-size="9.3" text-anchor="end" fill="#1a1a1a" stroke="#1a1a1a" stroke-width="0.3">9w</text>
<text transform="translate(514.6,482.6) rotate(-90)" font-size="9.3" text-anchor="end" fill="#1a1a1a" stroke="#1a1a1a" stroke-width="0.3">11w</text>
<text x="421.8" y="510.7" font-size="9.3" text-anchor="start" fill="#1a1a1a" stroke="#1a1a1a" stroke-width="0.3">Weeks following BMT</text>
<line x1="412.8" y1="469.25" x2="412.8" y2="466.78" stroke="#222" stroke-width="1"/>
<line x1="411" y1="466.78" x2="414.6" y2="466.78" stroke="#222" stroke-width="1"/>
<line x1="411" y1="469.25" x2="414.6" y2="469.25" stroke="#222" stroke-width="1"/>
<line x1="428.3" y1="468.01" x2="428.3" y2="465.54" stroke="#222" stroke-width="1"/>
<line x1="426.5" y1="465.54" x2="430.1" y2="465.54" stroke="#222" stroke-width="1"/>
<line x1="426.5" y1="468.01" x2="430.1" y2="468.01" stroke="#222" stroke-width="1"/>
<line x1="444.8" y1="465.54" x2="444.8" y2="461.82" stroke="#222" stroke-width="1"/>
<line x1="443" y1="461.82" x2="446.6" y2="461.82" stroke="#222" stroke-width="1"/>
<line x1="443" y1="465.54" x2="446.6" y2="465.54" stroke="#222" stroke-width="1"/>
<line x1="460.9" y1="461.82" x2="460.9" y2="458.11" stroke="#222" stroke-width="1"/>
<line x1="459.1" y1="458.11" x2="462.7" y2="458.11" stroke="#222" stroke-width="1"/>
<line x1="459.1" y1="461.82" x2="462.7" y2="461.82" stroke="#222" stroke-width="1"/>
<line x1="477.5" y1="458.73" x2="477.5" y2="455.02" stroke="#222" stroke-width="1"/>
<line x1="475.7" y1="455.02" x2="479.3" y2="455.02" stroke="#222" stroke-width="1"/>
<line x1="475.7" y1="458.73" x2="479.3" y2="458.73" stroke="#222" stroke-width="1"/>
<line x1="494.4" y1="465.54" x2="494.4" y2="458.73" stroke="#222" stroke-width="1"/>
<line x1="492.6" y1="458.73" x2="496.2" y2="458.73" stroke="#222" stroke-width="1"/>
<line x1="492.6" y1="465.54" x2="496.2" y2="465.54" stroke="#222" stroke-width="1"/>
<line x1="510.6" y1="461.82" x2="510.6" y2="456.87" stroke="#222" stroke-width="1"/>
<line x1="508.8" y1="456.87" x2="512.4" y2="456.87" stroke="#222" stroke-width="1"/>
<line x1="508.8" y1="461.82" x2="512.4" y2="461.82" stroke="#222" stroke-width="1"/>
<line x1="412.8" y1="469.25" x2="412.8" y2="465.54" stroke="#222" stroke-width="1"/>
<line x1="411" y1="465.54" x2="414.6" y2="465.54" stroke="#222" stroke-width="1"/>
<line x1="411" y1="469.25" x2="414.6" y2="469.25" stroke="#222" stroke-width="1"/>
<line x1="428.3" y1="468.01" x2="428.3" y2="464.92" stroke="#222" stroke-width="1"/>
<line x1="426.5" y1="464.92" x2="430.1" y2="464.92" stroke="#222" stroke-width="1"/>
<line x1="426.5" y1="468.01" x2="430.1" y2="468.01" stroke="#222" stroke-width="1"/>
<line x1="444.8" y1="461.82" x2="444.8" y2="456.87" stroke="#222" stroke-width="1"/>
<line x1="443" y1="456.87" x2="446.6" y2="456.87" stroke="#222" stroke-width="1"/>
<line x1="443" y1="461.82" x2="446.6" y2="461.82" stroke="#222" stroke-width="1"/>
<line x1="460.9" y1="461.21" x2="460.9" y2="455.63" stroke="#222" stroke-width="1"/>
<line x1="459.1" y1="455.63" x2="462.7" y2="455.63" stroke="#222" stroke-width="1"/>
<line x1="459.1" y1="461.21" x2="462.7" y2="461.21" stroke="#222" stroke-width="1"/>
<line x1="477.5" y1="458.11" x2="477.5" y2="454.4" stroke="#222" stroke-width="1"/>
<line x1="475.7" y1="454.4" x2="479.3" y2="454.4" stroke="#222" stroke-width="1"/>
<line x1="475.7" y1="458.11" x2="479.3" y2="458.11" stroke="#222" stroke-width="1"/>
<line x1="494.4" y1="456.25" x2="494.4" y2="452.54" stroke="#222" stroke-width="1"/>
<line x1="492.6" y1="452.54" x2="496.2" y2="452.54" stroke="#222" stroke-width="1"/>
<line x1="492.6" y1="456.25" x2="496.2" y2="456.25" stroke="#222" stroke-width="1"/>
<line x1="510.6" y1="460.59" x2="510.6" y2="456.87" stroke="#222" stroke-width="1"/>
<line x1="508.8" y1="456.87" x2="512.4" y2="456.87" stroke="#222" stroke-width="1"/>
<line x1="508.8" y1="460.59" x2="512.4" y2="460.59" stroke="#222" stroke-width="1"/>
<line x1="412.8" y1="469.25" x2="412.8" y2="465.54" stroke="#222" stroke-width="1"/>
<line x1="411" y1="465.54" x2="414.6" y2="465.54" stroke="#222" stroke-width="1"/>
<line x1="411" y1="469.25" x2="414.6" y2="469.25" stroke="#222" stroke-width="1"/>
<line x1="428.3" y1="468.01" x2="428.3" y2="464.92" stroke="#222" stroke-width="1"/>
<line x1="426.5" y1="464.92" x2="430.1" y2="464.92" stroke="#222" stroke-width="1"/>
<line x1="426.5" y1="468.01" x2="430.1" y2="468.01" stroke="#222" stroke-width="1"/>
<line x1="444.8" y1="461.82" x2="444.8" y2="455.02" stroke="#222" stroke-width="1"/>
<line x1="443" y1="455.02" x2="446.6" y2="455.02" stroke="#222" stroke-width="1"/>
<line x1="443" y1="461.82" x2="446.6" y2="461.82" stroke="#222" stroke-width="1"/>
<line x1="460.9" y1="460.59" x2="460.9" y2="452.54" stroke="#222" stroke-width="1"/>
<line x1="459.1" y1="452.54" x2="462.7" y2="452.54" stroke="#222" stroke-width="1"/>
<line x1="459.1" y1="460.59" x2="462.7" y2="460.59" stroke="#222" stroke-width="1"/>
<line x1="477.5" y1="458.11" x2="477.5" y2="451.3" stroke="#222" stroke-width="1"/>
<line x1="475.7" y1="451.3" x2="479.3" y2="451.3" stroke="#222" stroke-width="1"/>
<line x1="475.7" y1="458.11" x2="479.3" y2="458.11" stroke="#222" stroke-width="1"/>
<line x1="494.4" y1="456.25" x2="494.4" y2="451.3" stroke="#222" stroke-width="1"/>
<line x1="492.6" y1="451.3" x2="496.2" y2="451.3" stroke="#222" stroke-width="1"/>
<line x1="492.6" y1="456.25" x2="496.2" y2="456.25" stroke="#222" stroke-width="1"/>
<line x1="510.6" y1="455.02" x2="510.6" y2="449.01" stroke="#222" stroke-width="1"/>
<line x1="508.8" y1="449.01" x2="512.4" y2="449.01" stroke="#222" stroke-width="1"/>
<line x1="508.8" y1="455.02" x2="512.4" y2="455.02" stroke="#222" stroke-width="1"/>
<polyline points="412.8,468.01 428.3,466.78 444.8,463.68 460.9,459.97 477.5,456.87 494.4,460.59 510.6,459.35" fill="none" stroke="#111" stroke-width="1.1"/>
<polyline points="412.8,467.58 428.3,466.47 444.8,459.97 460.9,459.35 477.5,456.25 494.4,454.4 510.6,458.73" fill="none" stroke="#111" stroke-width="1.1"/>
<polyline points="412.8,467.58 428.3,466.47 444.8,459.97 460.9,458.73 477.5,455.94 494.4,454.4 510.6,453.47" fill="none" stroke="#111" stroke-width="1.1"/>
<circle cx="444.8" cy="459.97" r="2.5" fill="#000"/>
<circle cx="460.9" cy="459.35" r="2.5" fill="#000"/>
<circle cx="477.5" cy="456.25" r="2.5" fill="#000"/>
<circle cx="494.4" cy="454.4" r="2.5" fill="#000"/>
<circle cx="510.6" cy="458.73" r="2.5" fill="#000"/>
<rect x="442.4" y="461.28" width="4.8" height="4.8" fill="#fff" stroke="#111" stroke-width="1"/>
<rect x="458.5" y="457.57" width="4.8" height="4.8" fill="#fff" stroke="#111" stroke-width="1"/>
<rect x="475.1" y="454.47" width="4.8" height="4.8" fill="#fff" stroke="#111" stroke-width="1"/>
<rect x="492" y="458.19" width="4.8" height="4.8" fill="#fff" stroke="#111" stroke-width="1"/>
<rect x="508.2" y="456.95" width="4.8" height="4.8" fill="#fff" stroke="#111" stroke-width="1"/>
<polygon points="412.8,463.88 409.6,469.98 416,469.98" fill="#000"/>
<polygon points="428.3,462.77 425.1,468.87 431.5,468.87" fill="#000"/>
<polygon points="444.8,456.27 441.6,462.37 448,462.37" fill="#000"/>
<polygon points="460.9,455.03 457.7,461.13 464.1,461.13" fill="#000"/>
<polygon points="477.5,452.24 474.3,458.34 480.7,458.34" fill="#000"/>
<polygon points="494.4,450.7 491.2,456.8 497.6,456.8" fill="#000"/>
<polygon points="510.6,449.77 507.4,455.87 513.8,455.87" fill="#000"/>
</svg>
</body></html>
